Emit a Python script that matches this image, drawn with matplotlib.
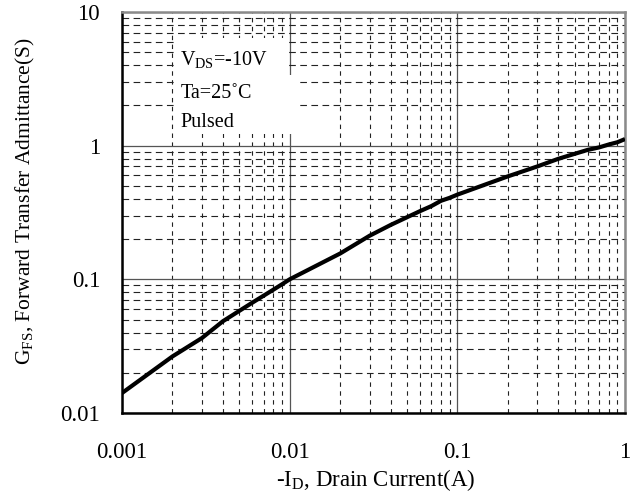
import matplotlib
matplotlib.use("Agg")
import matplotlib.pyplot as plt
from matplotlib.patches import Rectangle
from matplotlib.ticker import LogLocator, FixedLocator, FixedFormatter, NullFormatter

plt.rcParams['font.family'] = ['Liberation Serif', 'DejaVu Serif']
plt.rcParams['mathtext.fontset'] = 'custom'
plt.rcParams['mathtext.rm'] = 'Liberation Serif'

drain_current = [0.001, 0.002, 0.003, 0.004, 0.005, 0.006, 0.007, 0.008, 0.009,
                 0.01, 0.02, 0.03, 0.04, 0.05, 0.06, 0.07, 0.08, 0.09,
                 0.1, 0.2, 0.3, 0.4, 0.5, 0.6, 0.7, 0.8, 0.9, 1.0]
gfs = [0.0141, 0.0265, 0.0364, 0.0486, 0.058, 0.067, 0.0755, 0.0837, 0.0918,
       0.1, 0.156, 0.212, 0.255, 0.291, 0.324, 0.353, 0.387, 0.407,
       0.43, 0.589, 0.699, 0.797, 0.868, 0.93, 0.97, 1.02, 1.06, 1.12]

x_ticks = [0.001, 0.01, 0.1, 1]
x_tick_labels = ["0.001", "0.01", "0.1", "1"]
y_ticks = [0.01, 0.1, 1, 10]
y_tick_labels = ["0.01", "0.1", "1", "10"]
annotation_lines = [r"V$_{\rm DS}$=-10V", "Ta=25˚C", "Pulsed"]

fig = plt.figure(figsize=(6.36, 4.97), dpi=100)
ax = fig.add_axes([0.1918, 0.169, 0.7909, 0.8069])
ax.set_xscale('log')
ax.set_yscale('log')
ax.set_xlim(0.001, 1)
ax.set_ylim(0.01, 10)

ax.xaxis.set_major_locator(FixedLocator(x_ticks))
ax.xaxis.set_major_formatter(FixedFormatter(x_tick_labels))
ax.yaxis.set_major_locator(FixedLocator(y_ticks))
ax.yaxis.set_major_formatter(FixedFormatter(y_tick_labels))
ax.xaxis.set_minor_locator(LogLocator(base=10, subs=range(2, 10)))
ax.yaxis.set_minor_locator(LogLocator(base=10, subs=range(2, 10)))
ax.xaxis.set_minor_formatter(NullFormatter())
ax.yaxis.set_minor_formatter(NullFormatter())

ax.tick_params(which='both', length=0, labelsize=16.5)
ax.tick_params(axis='x', pad=21)
ax.tick_params(axis='y', pad=15.8)

ax.grid(which='major', color='#555555', linewidth=0.9, linestyle='-', zorder=1)
ax.grid(which='minor', axis='x', color='#222222', linewidth=0.8, linestyle=(0, (4, 4)), zorder=1)
ax.grid(which='minor', axis='y', color='#222222', linewidth=0.8, linestyle=(0, (6, 4)), zorder=1)
ax.set_axisbelow(True)

for side in ['left', 'bottom']:
    ax.spines[side].set_color('black')
    ax.spines[side].set_linewidth(1.8)
for side in ['top', 'right']:
    ax.spines[side].set_color('#8a8a8a')
    ax.spines[side].set_linewidth(1.8)

# white annotation box (two parts, as in the reference)
ax.add_patch(Rectangle((0.1034, 0.843), 0.2286, 0.092, transform=ax.transAxes,
                       facecolor='white', edgecolor='none', zorder=2))
ax.add_patch(Rectangle((0.1034, 0.696), 0.2426, 0.148, transform=ax.transAxes,
                       facecolor='white', edgecolor='none', zorder=2))
text_y = [0.880, 0.797, 0.725]
for line, ty in zip(annotation_lines, text_y):
    ax.text(0.116, ty, line, transform=ax.transAxes, fontsize=14.5,
            va='center', ha='left', zorder=3)

ax.plot(drain_current, gfs, color='black', linewidth=3.0, zorder=4,
        solid_capstyle='butt')

ax.set_xlabel(r"-I$_{\rm D}$, Drain Current(A)", fontsize=16.5)
ax.set_ylabel(r"G$_{\rm FS}$, Forward Transfer Admittance(S)", fontsize=15.5)
ax.xaxis.set_label_coords(0.505, -0.135)
ax.yaxis.set_label_coords(-0.168, 0.529)

fig.savefig("out.png", dpi=100)
